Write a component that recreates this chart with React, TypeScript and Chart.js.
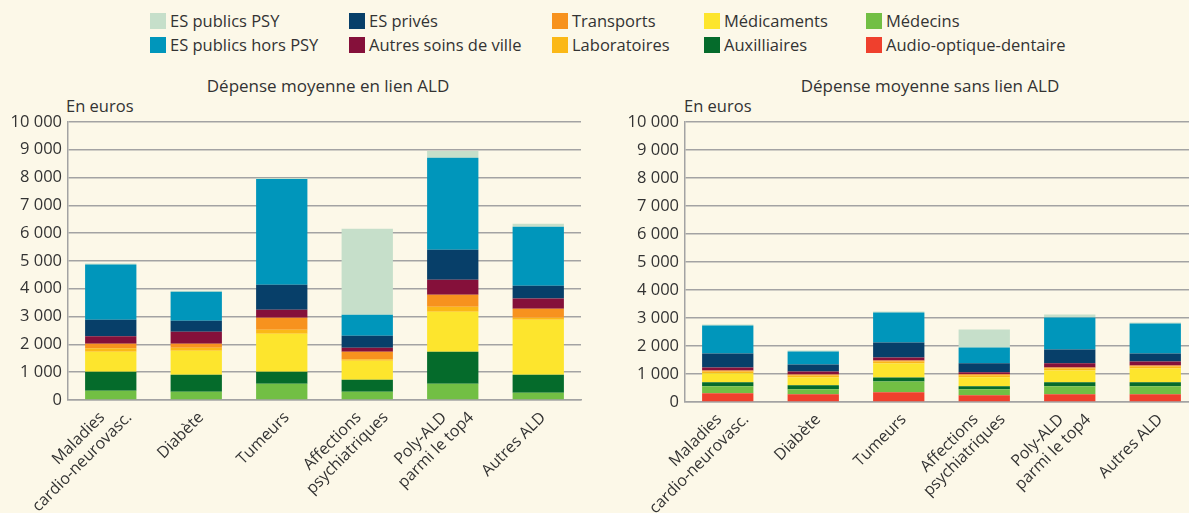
import React, { useEffect, useRef } from "react";
import { Chart, registerables } from "chart.js";
Chart.register(...registerables);

// ---------- DATA ----------
const categories: (string | string[])[] = [
  ["Maladies", "cardio-neurovasc."],
  "Diabète",
  "Tumeurs",
  ["Affections", "psychiatriques"],
  ["Poly-ALD", "parmi le top4"],
  "Autres ALD",
];

const yMin = 0;
const yMax = 10000;
const yStep = 1000;
const yUnit = "En euros";

const titleAld = "Dépense moyenne en lien ALD";
const titleSansAld = "Dépense moyenne sans lien ALD";

// series, bottom of the stack first
const seriesNames = [
  "Audio-optique-dentaire",
  "Médecins",
  "Auxilliaires",
  "Médicaments",
  "Laboratoires",
  "Transports",
  "Autres soins de ville",
  "ES privés",
  "ES publics hors PSY",
  "ES publics PSY",
];
const seriesColors = [
  "#ef402d",
  "#72bf44",
  "#056b2b",
  "#fde52d",
  "#fbb817",
  "#f7921e",
  "#85103a",
  "#073f69",
  "#0096bb",
  "#c6dfca",
];

// Dépense moyenne en lien ALD
const aldAudio = [0, 0, 0, 0, 0, 0];
const aldMedecins = [335, 300, 587, 300, 587, 263];
const aldAuxiliaires = [683, 611, 431, 431, 1150, 647];
const aldMedicaments = [719, 862, 1365, 683, 1437, 1976];
const aldLaboratoires = [120, 108, 144, 48, 180, 72];
const aldTransports = [168, 144, 431, 275, 431, 323];
const aldAutresSoins = [263, 431, 287, 144, 539, 371];
const aldPrives = [599, 395, 898, 431, 1078, 455];
const aldPublicsHorsPsy = [1988, 1042, 3808, 754, 3305, 2120];
const aldPublicsPsy = [30, 36, 36, 3090, 251, 108];

// Dépense moyenne sans lien ALD
const sansAudio = [309, 273, 344, 238, 273, 273];
const sansMedecins = [249, 178, 392, 214, 285, 285];
const sansAuxiliaires = [143, 143, 143, 107, 143, 143];
const sansMedicaments = [321, 285, 499, 321, 428, 499];
const sansLaboratoires = [71, 71, 71, 71, 71, 71];
const sansTransports = [36, 36, 36, 36, 36, 36];
const sansAutresSoins = [107, 107, 107, 71, 143, 143];
const sansPrives = [499, 249, 534, 321, 499, 285];
const sansPublicsHorsPsy = [998, 463, 1069, 570, 1140, 1069];
const sansPublicsPsy = [36, 36, 36, 641, 107, 36];

const aldSeries = [
  aldAudio, aldMedecins, aldAuxiliaires, aldMedicaments, aldLaboratoires,
  aldTransports, aldAutresSoins, aldPrives, aldPublicsHorsPsy, aldPublicsPsy,
];
const sansSeries = [
  sansAudio, sansMedecins, sansAuxiliaires, sansMedicaments, sansLaboratoires,
  sansTransports, sansAutresSoins, sansPrives, sansPublicsHorsPsy, sansPublicsPsy,
];

// legend layout (two rows, five columns), by series name
const legendRow1 = ["ES publics PSY", "ES privés", "Transports", "Médicaments", "Médecins"];
const legendRow2 = ["ES publics hors PSY", "Autres soins de ville", "Laboratoires", "Auxilliaires", "Audio-optique-dentaire"];

// ---------- STYLE ----------
const FONT = "'Open Sans', 'DejaVu Sans', sans-serif";
const TEXT = "#333333";
const GRID = "#a3a3a3";
const BG = "#fcf8e8";

const fmt = (v: number) => {
  const s = String(Math.round(v));
  return s.replace(/\B(?=(\d{3})+(?!\d))/g, " ");
};

// draws the rotated category labels under the x axis, using the x scale
const rotatedLabels = {
  id: "rotatedLabels",
  afterDraw(chart: any) {
    const xs = chart.scales.x;
    const ctx = chart.ctx;
    const labels = chart.data.labels as (string | string[])[];
    ctx.save();
    ctx.fillStyle = TEXT;
    ctx.font = `16px ${FONT}`;
    ctx.textAlign = "right";
    ctx.textBaseline = "middle";
    labels.forEach((lab, idx) => {
      const lines = Array.isArray(lab) ? lab : [lab];
      const n = lines.length;
      const tick = xs.getPixelForValue(idx);
      lines.forEach((line, i) => {
        const px = tick + 5 + (i - (n - 1) / 2) * 27;
        const py = xs.top + 15;
        ctx.save();
        ctx.translate(px, py);
        ctx.rotate(-Math.PI / 4);
        ctx.fillText(line, 0, 0);
        ctx.restore();
      });
    });
    ctx.restore();
  },
};

type ChartProps = {
  series: number[][];
  left: number;
  top: number;
  width: number;
  height: number;
  xAxisHeight: number;
};

function StackedChart({ series, left, top, width, height, xAxisHeight }: ChartProps) {
  const ref = useRef<HTMLCanvasElement | null>(null);
  useEffect(() => {
    if (!ref.current) return;
    const chart = new Chart(ref.current, {
      type: "bar",
      data: {
        labels: categories as any,
        datasets: series.map((vals, i) => ({
          label: seriesNames[i],
          data: vals,
          backgroundColor: seriesColors[i],
          borderWidth: 0,
          barPercentage: 0.6,
          categoryPercentage: 1,
        })),
      },
      options: {
        responsive: false,
        animation: false,
        devicePixelRatio: 1,
        layout: { padding: { top: 0, right: 4, left: 0, bottom: 0 }, autoPadding: false },
        plugins: { legend: { display: false }, tooltip: { enabled: false }, title: { display: false } },
        scales: {
          x: {
            stacked: true,
            grid: { display: false },
            border: { display: true, color: GRID, width: 1.5 },
            ticks: { display: false },
            afterFit: (s: any) => {
              s.height = xAxisHeight;
            },
          },
          y: {
            stacked: true,
            min: yMin,
            max: yMax,
            grid: { color: GRID, lineWidth: 1.5, drawTicks: false },
            border: { display: true, color: GRID, width: 1.5 },
            ticks: {
              stepSize: yStep,
              color: TEXT,
              font: { family: FONT, size: 16.5 },
              padding: 6,
              callback: (v: any) => fmt(Number(v)),
            },
            afterFit: (s: any) => {
              s.width = 68;
            },
          },
        },
      },
      plugins: [rotatedLabels],
    });
    return () => chart.destroy();
  }, [series, xAxisHeight]);
  return (
    <canvas
      ref={ref}
      width={width}
      height={height}
      style={{ position: "absolute", left, top, width, height }}
    />
  );
}

function Legend() {
  const cols = [150, 349, 552, 704, 866];
  const rows = [13, 37];
  const items: React.ReactNode[] = [];
  [legendRow1, legendRow2].forEach((row, r) => {
    row.forEach((name, c) => {
      const idx = seriesNames.indexOf(name);
      items.push(
        <div
          key={name}
          style={{ position: "absolute", left: cols[c], top: rows[r], height: 16, display: "flex", alignItems: "center", whiteSpace: "nowrap" }}
        >
          <span style={{ display: "inline-block", width: 16, height: 16, background: seriesColors[idx], marginRight: 4 }} />
          <span style={{ fontFamily: FONT, fontSize: 16.5, color: TEXT, lineHeight: "16px" }}>{name}</span>
        </div>
      );
    });
  });
  return <>{items}</>;
}

const textStyle: React.CSSProperties = {
  position: "absolute",
  fontFamily: FONT,
  fontSize: 16.5,
  color: TEXT,
  whiteSpace: "nowrap",
  lineHeight: "20px",
};

export default function App() {
  return (
    <div
      style={{
        position: "fixed",
        left: 0,
        top: 0,
        width: 1189,
        height: 513,
        overflow: "hidden",
        background: BG,
      }}
    >
      <Legend />
      <div style={{ ...textStyle, fontSize: 17, left: 0, width: 656, textAlign: "center", top: 76 }}>{titleAld}</div>
      <div style={{ ...textStyle, fontSize: 17, left: 604, width: 652, textAlign: "center", top: 76 }}>{titleSansAld}</div>
      <div style={{ ...textStyle, left: 66, top: 96 }}>{yUnit}</div>
      <div style={{ ...textStyle, left: 684, top: 96 }}>{yUnit}</div>
      <StackedChart series={aldSeries} left={0} top={106} width={585} height={407} xAxisHeight={113} />
      <StackedChart series={sansSeries} left={617} top={106} width={585} height={407} xAxisHeight={111} />
    </div>
  );
}
